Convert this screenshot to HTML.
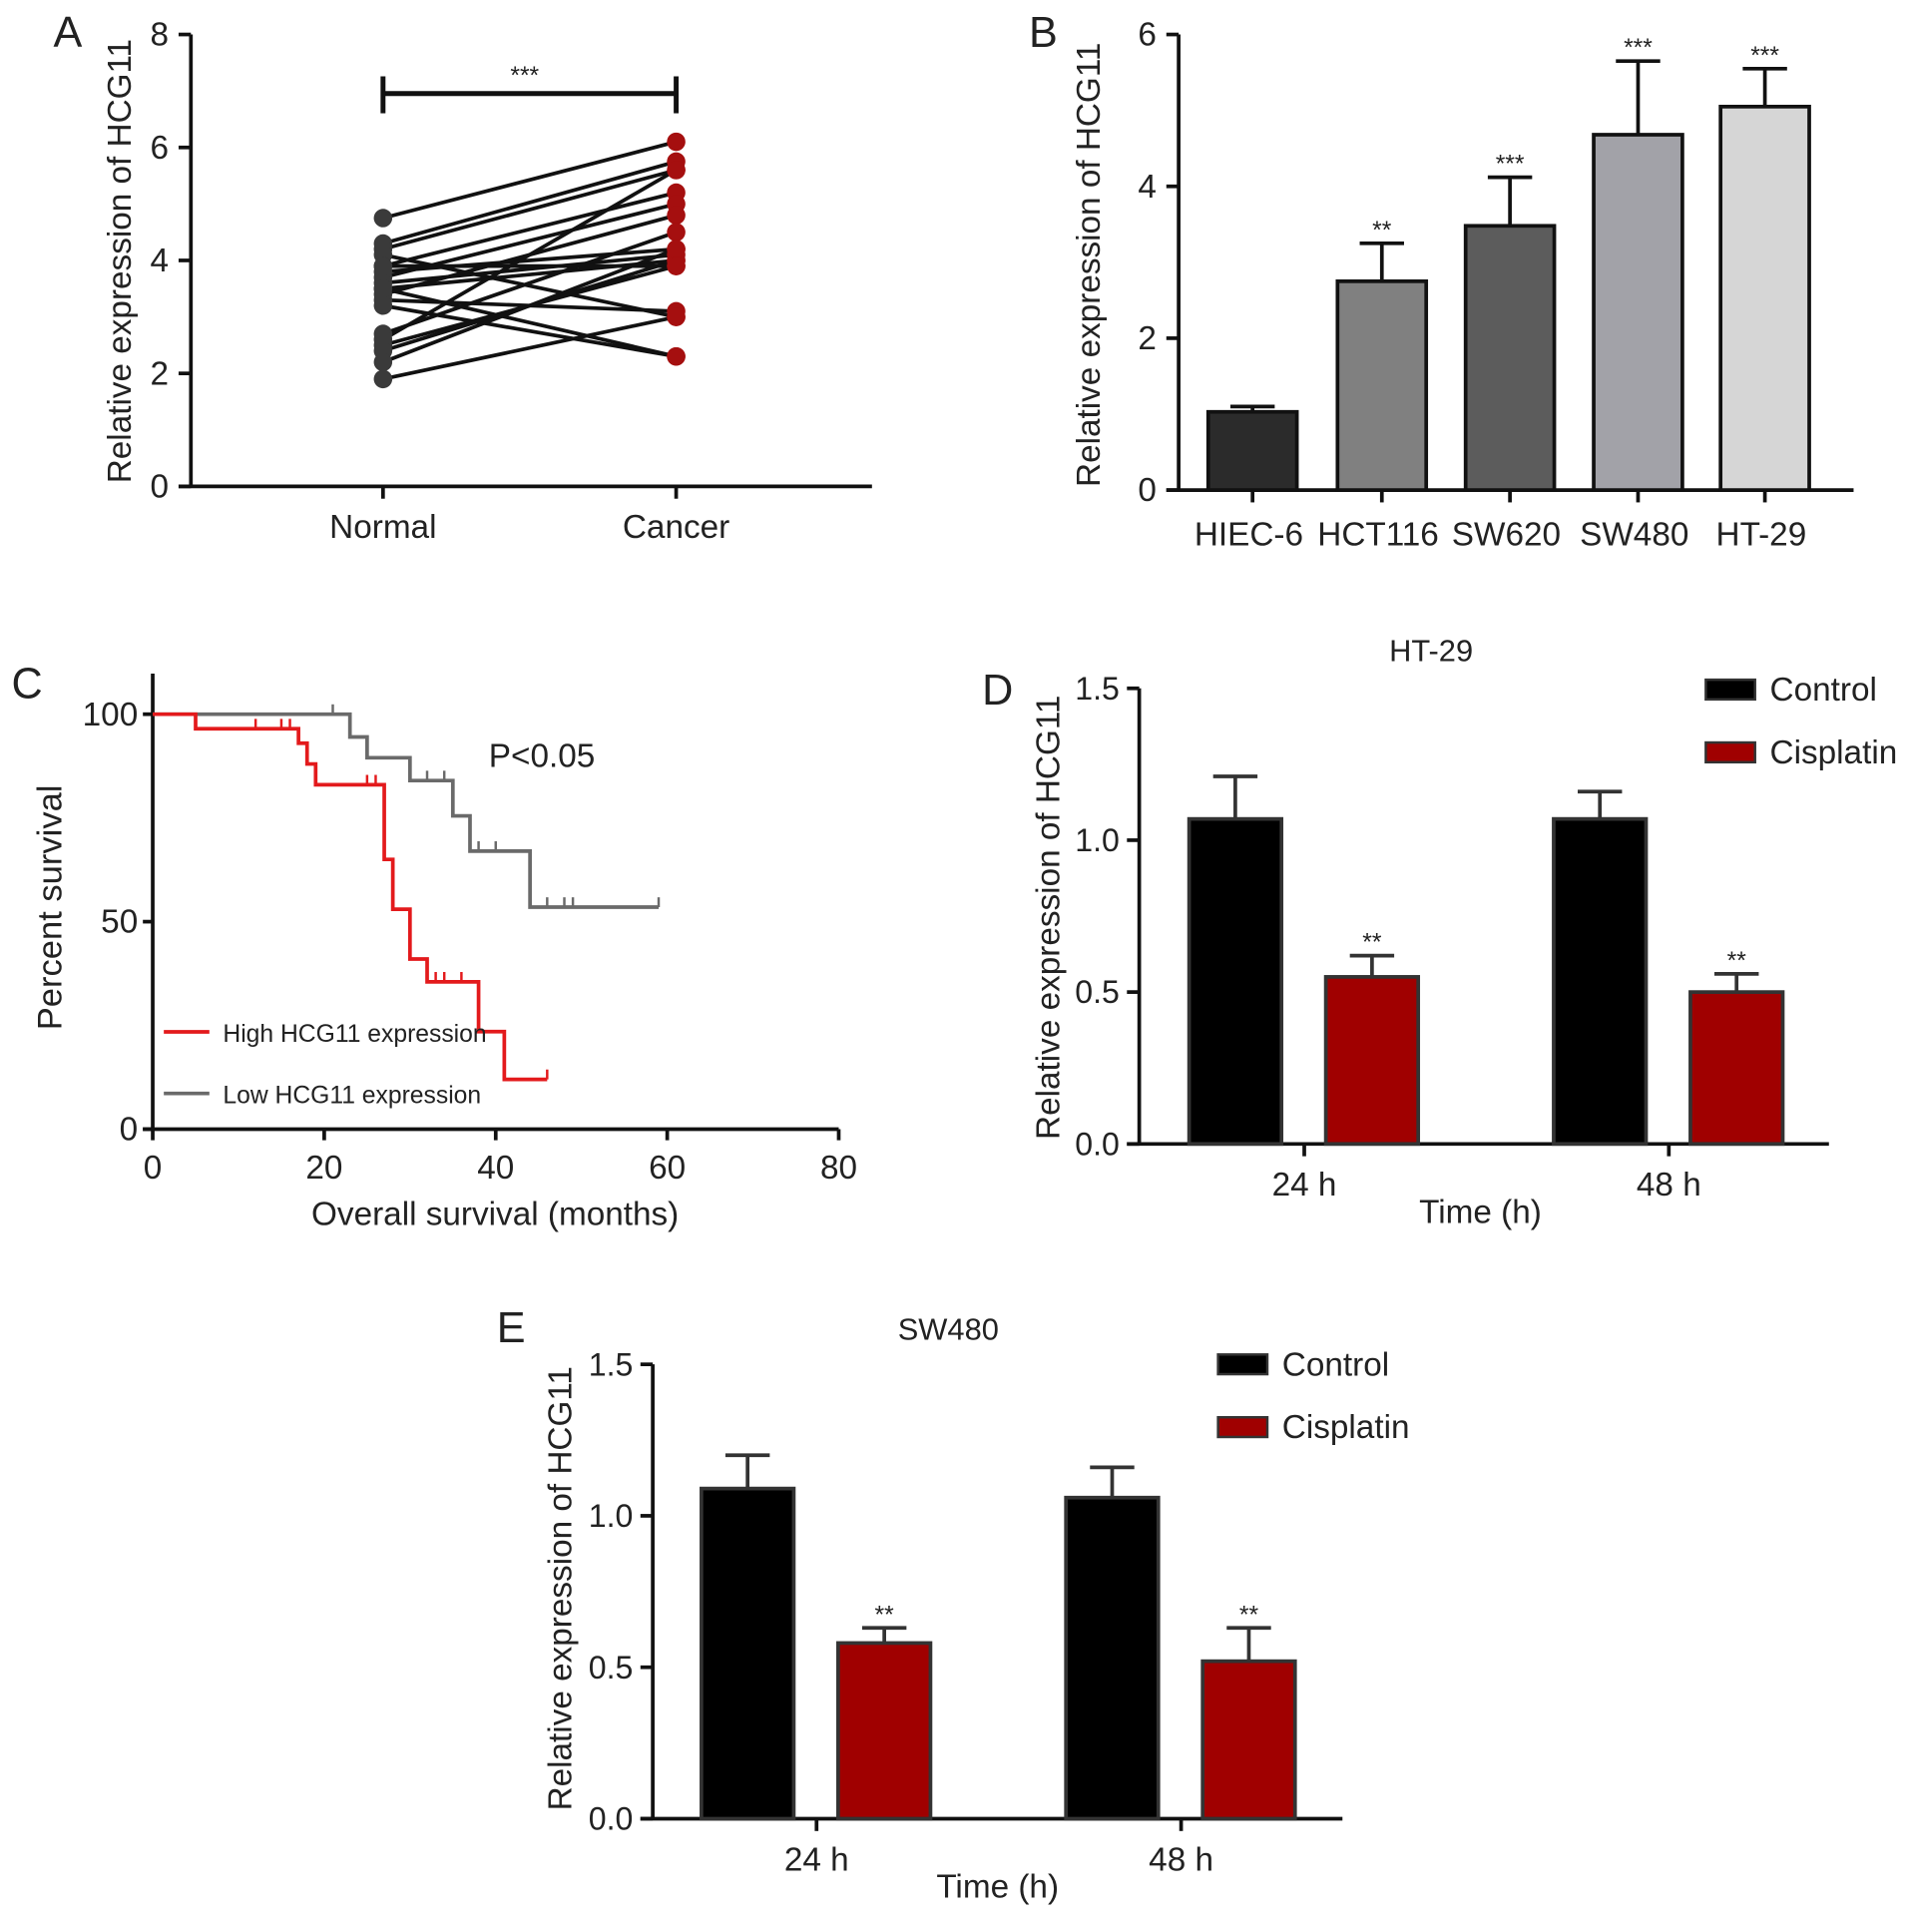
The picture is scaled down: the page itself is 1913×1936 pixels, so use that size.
<!DOCTYPE html>
<html><head><meta charset="utf-8"><style>
html,body{margin:0;padding:0;background:#fff}
svg{display:block}
text{font-family:"Liberation Sans",sans-serif;fill:#222}
</style></head><body>
<svg id="fig" width="1913" height="1936" viewBox="0 0 1550 1569" preserveAspectRatio="none" xmlns="http://www.w3.org/2000/svg"></svg>
<script>
// Panel A data
const aNormal=[4.75,4.3,4.2,4.1,3.9,3.8,3.7,3.6,3.5,3.4,3.3,3.5,3.2,2.7,2.6,2.5,2.4,2.2,1.9,3.9];
const aCancer=[6.1,5.75,5.6,3.0,5.2,4.2,5.0,4.1,2.3,4.8,3.1,4.0,2.3,4.5,5.6,3.9,4.0,4.2,3.0,3.9];
const aCats=["Normal","Cancer"];
const aTicks=[0,2,4,6,8];
// Panel B data
const bCats=["HIEC-6","HCT116","SW620","SW480","HT-29"];
const bVals=[1.03,2.75,3.48,4.68,5.05];
const bErr=[1.1,3.25,4.12,5.65,5.55];
const bSig=["","**","***","***","***"];
const bColors=["#2b2b2b","#808080","#5c5c5c","#a2a2a8","#d6d6d6"];
const bTicks=[0,2,4,6];
// Panel C data
const cHighX=[0,5,17,18,19,27,28,30,32,38,41,46];
const cHighY=[100,96.5,93,88,83,65,53,41,35.5,23.5,12,12];
const cHighCens=[[12,96.5],[15,96.5],[16,96.5],[25,83],[26,83],[33,35.5],[34,35.5],[36,35.5],[46,12]];
const cLowX=[0,23,25,30,35,37,44,59];
const cLowY=[100,94.5,89.5,84,75.5,67,53.5,53.5];
const cLowCens=[[21,100],[32,84],[34,84],[38,67],[40,67],[46,53.5],[48,53.5],[49,53.5],[59,53.5]];
const cXTicks=[0,20,40,60,80];
const cYTicks=[0,50,100];
// Panel D data
const dGroups=["24 h","48 h"];
const dControl=[1.07,1.07];
const dControlErr=[1.21,1.16];
const dCis=[0.55,0.50];
const dCisErr=[0.62,0.56];
// Panel E data
const eControl=[1.09,1.06];
const eControlErr=[1.2,1.16];
const eCis=[0.58,0.52];
const eCisErr=[0.63,0.63];
const deTicks=[0,0.5,1.0,1.5];

const svg=document.getElementById('fig');
const NS='http://www.w3.org/2000/svg';
function mk(tag,attrs,parent){const e=document.createElementNS(NS,tag);for(const k in attrs)e.setAttribute(k,attrs[k]);(parent||svg).appendChild(e);return e;}
function txt(s,x,y,size,anchor,parent,extra){const t=mk('text',Object.assign({x:x,y:y,'font-size':size,'text-anchor':anchor||'middle'},extra||{}),parent);t.textContent=s;return t;}
function grp(name){const g=mk('g',{});return g;}

[["A",55,38],["B",847,38],["C",22,567],["D",810,572],["E",415,1090]].forEach(p=>{const t=txt(p[0],p[1],p[2],35,'middle');});

// ---------- Panel A ----------
(function(){
const g=grp('panel-a');
const y0=395,y1=28,ax=155;
const ys=v=>y0-(y0-y1)*v/8;
const xs=[311,549];
mk('line',{x1:ax,y1:y1,x2:ax,y2:y0,stroke:'#111','stroke-width':3},g);
mk('line',{x1:ax-10,y1:y0,x2:708,y2:y0,stroke:'#111','stroke-width':3},g);
aTicks.forEach(v=>{mk('line',{x1:ax-10,y1:ys(v),x2:ax,y2:ys(v),stroke:'#111','stroke-width':3},g);const t=txt(String(v),ax-18,ys(v)+9,27,'end',g);});
aCats.forEach((c,i)=>{mk('line',{x1:xs[i],y1:y0,x2:xs[i],y2:y0+10,stroke:'#111','stroke-width':3},g);const t=txt(c,xs[i],y0+42,27,'middle',g);});
const yt=txt('Relative expression of HCG11',0,0,27,'middle',g,{transform:'translate(106,212) rotate(-90)'});

mk('line',{x1:xs[0],y1:76,x2:xs[1],y2:76,stroke:'#111','stroke-width':4},g);
mk('line',{x1:xs[0],y1:62,x2:xs[0],y2:92,stroke:'#111','stroke-width':4},g);
mk('line',{x1:xs[1],y1:62,x2:xs[1],y2:92,stroke:'#111','stroke-width':4},g);
txt('***',426,68,20,'middle',g);
aNormal.forEach((v,i)=>{const l=mk('line',{x1:xs[0],y1:ys(v),x2:xs[1],y2:ys(aCancer[i]),stroke:'#111','stroke-width':3},g);});
aNormal.forEach(v=>{const c=mk('circle',{cx:xs[0],cy:ys(v),r:7.5,fill:'#3a3a3a'},g);});
aCancer.forEach(v=>{const c=mk('circle',{cx:xs[1],cy:ys(v),r:7.5,fill:'#a50f0f'},g);});
})();

// ---------- Panel B ----------
(function(){
const g=grp('panel-b');
const y0=398,y1=28,ax=957;
const ys=v=>y0-(y0-y1)*v/6;
const xs=[1017,1122,1226,1330,1433];const bw=72;
mk('line',{x1:ax,y1:y1,x2:ax,y2:y0,stroke:'#111','stroke-width':3},g);
mk('line',{x1:ax-10,y1:y0,x2:1505,y2:y0,stroke:'#111','stroke-width':3},g);
bTicks.forEach(v=>{mk('line',{x1:ax-10,y1:ys(v),x2:ax,y2:ys(v),stroke:'#111','stroke-width':3},g);txt(String(v),ax-18,ys(v)+9,27,'end',g);});
const yt=txt('Relative expression of HCG11',0,0,27,'middle',g,{transform:'translate(893,215) rotate(-90)'});

bCats.forEach((c,i)=>{
 mk('line',{x1:xs[i],y1:ys(bVals[i]),x2:xs[i],y2:ys(bErr[i]),stroke:'#111','stroke-width':3},g);
 mk('line',{x1:xs[i]-18,y1:ys(bErr[i]),x2:xs[i]+18,y2:ys(bErr[i]),stroke:'#111','stroke-width':3},g);
 const r=mk('rect',{x:xs[i]-bw/2,y:ys(bVals[i]),width:bw,height:y0-ys(bVals[i]),fill:bColors[i],stroke:'#111','stroke-width':3},g);
 
 if(bSig[i])txt(bSig[i],xs[i],ys(bErr[i])-4,20,'middle',g);
 mk('line',{x1:xs[i],y1:y0,x2:xs[i],y2:y0+10,stroke:'#111','stroke-width':3},g);
 const t=txt(c,xs[i]-3,y0+45,27,'middle',g);
});
})();

// ---------- Panel C ----------
(function(){
const g=grp('panel-c');
const y0=917,y100=580,ax=124;
const ys=v=>y0-(y0-y100)*v/100;
const xs=m=>ax+(681-ax)*m/80;
mk('line',{x1:ax,y1:547,x2:ax,y2:y0,stroke:'#111','stroke-width':3},g);
mk('line',{x1:ax-8,y1:y0,x2:681,y2:y0,stroke:'#111','stroke-width':3},g);
cYTicks.forEach(v=>{mk('line',{x1:ax-8,y1:ys(v),x2:ax,y2:ys(v),stroke:'#111','stroke-width':3},g);txt(String(v),ax-12,ys(v)+9,27,'end',g);});
cXTicks.forEach(v=>{mk('line',{x1:xs(v),y1:y0,x2:xs(v),y2:y0+9,stroke:'#111','stroke-width':3},g);txt(String(v),xs(v),y0+40,27,'middle',g);});
const yt=txt('Percent survival',0,0,28,'middle',g,{transform:'translate(50,737) rotate(-90)'});

const xt=txt('Overall survival (months)',402,995,27,'middle',g);
txt('P<0.05',440,623,27,'middle',g);
function steps(X,Y){let d='M'+xs(X[0])+','+ys(Y[0]);for(let i=1;i<X.length;i++){d+=' H'+xs(X[i])+' V'+ys(Y[i]);}return d;}
const lo=mk('path',{d:steps(cLowX,cLowY),fill:'none',stroke:'#6a6a6a','stroke-width':3},g);
const hi=mk('path',{d:steps(cHighX,cHighY),fill:'none',stroke:'#e31a1c','stroke-width':3},g);
cLowCens.forEach(p=>mk('line',{x1:xs(p[0]),y1:ys(p[1]),x2:xs(p[0]),y2:ys(p[1])-8,stroke:'#6a6a6a','stroke-width':2},g));
cHighCens.forEach(p=>mk('line',{x1:xs(p[0]),y1:ys(p[1]),x2:xs(p[0]),y2:ys(p[1])-8,stroke:'#e31a1c','stroke-width':2},g));
mk('line',{x1:133,y1:838,x2:170,y2:838,stroke:'#e31a1c','stroke-width':3},g);
txt('High HCG11 expression',181,846,20,'start',g);
mk('line',{x1:133,y1:888,x2:170,y2:888,stroke:'#6a6a6a','stroke-width':3},g);
txt('Low HCG11 expression',181,896,20,'start',g);
})();

// ---------- Panels D & E ----------
function barPanel(name,title,tx,ty,ax,y0,y1,xEnd,xsC,xsK,tickX,ctrl,ctrlE,cis,cisE,legX,legY,ytX,ytY){
const g=grp(name);
const ys=v=>y0-(y0-y1)*v/1.5;const bw=75;
txt(title,tx,ty,25,'middle',g);
mk('line',{x1:ax,y1:y1,x2:ax,y2:y0,stroke:'#111','stroke-width':3},g);
mk('line',{x1:ax-10,y1:y0,x2:xEnd,y2:y0,stroke:'#111','stroke-width':3},g);
deTicks.forEach(v=>{mk('line',{x1:ax-10,y1:ys(v),x2:ax,y2:ys(v),stroke:'#111','stroke-width':3},g);txt(v.toFixed(1),ax-16,ys(v)+9,26,'end',g);});
const yt=txt('Relative expression of HCG11',0,0,27,'middle',g,{transform:'translate('+ytX+','+ytY+') rotate(-90)'});

dGroups.forEach((gr,i)=>{
 [[xsC[i],ctrl[i],ctrlE[i],'#000','control'],[xsK[i],cis[i],cisE[i],'#a00000','cisplatin']].forEach(b=>{
  mk('line',{x1:b[0],y1:ys(b[1]),x2:b[0],y2:ys(b[2]),stroke:'#333','stroke-width':3},g);
  mk('line',{x1:b[0]-18,y1:ys(b[2]),x2:b[0]+18,y2:ys(b[2]),stroke:'#333','stroke-width':3},g);
  const r=mk('rect',{x:b[0]-bw/2,y:ys(b[1]),width:bw,height:y0-ys(b[1]),fill:b[3],stroke:'#333','stroke-width':3},g);
  
 });
 txt('**',xsK[i],ys(cisE[i])-4,20,'middle',g);
 mk('line',{x1:tickX[i],y1:y0,x2:tickX[i],y2:y0+10,stroke:'#111','stroke-width':3},g);
 txt(gr,tickX[i],y0+42,27,'middle',g);
});
const xt=txt('Time (h)',(tickX[0]+tickX[1])/2+(name==='panel-d'?-5:-1),y0+64,27,'middle',g);

const l1=mk('rect',{x:legX,y:legY-8,width:40,height:16,fill:'#000',stroke:'#333','stroke-width':2},g);

txt('Control',legX+52,legY+9,27,'start',g);
const l2=mk('rect',{x:legX,y:legY+43,width:40,height:16,fill:'#a00000',stroke:'#333','stroke-width':2},g);

txt('Cisplatin',legX+52,legY+60,27,'start',g);
}
barPanel('panel-d','HT-29',1162,537,925,929,559,1485,[1003,1299],[1114,1410],[1059,1355],dControl,dControlErr,dCis,dCisErr,1385,560,860,745);
barPanel('panel-e','SW480',770,1088,530,1477,1108,1090,[607,903],[718,1014],[663,959],eControl,eControlErr,eCis,eCisErr,989,1108,464,1290);
</script>
</body></html>
